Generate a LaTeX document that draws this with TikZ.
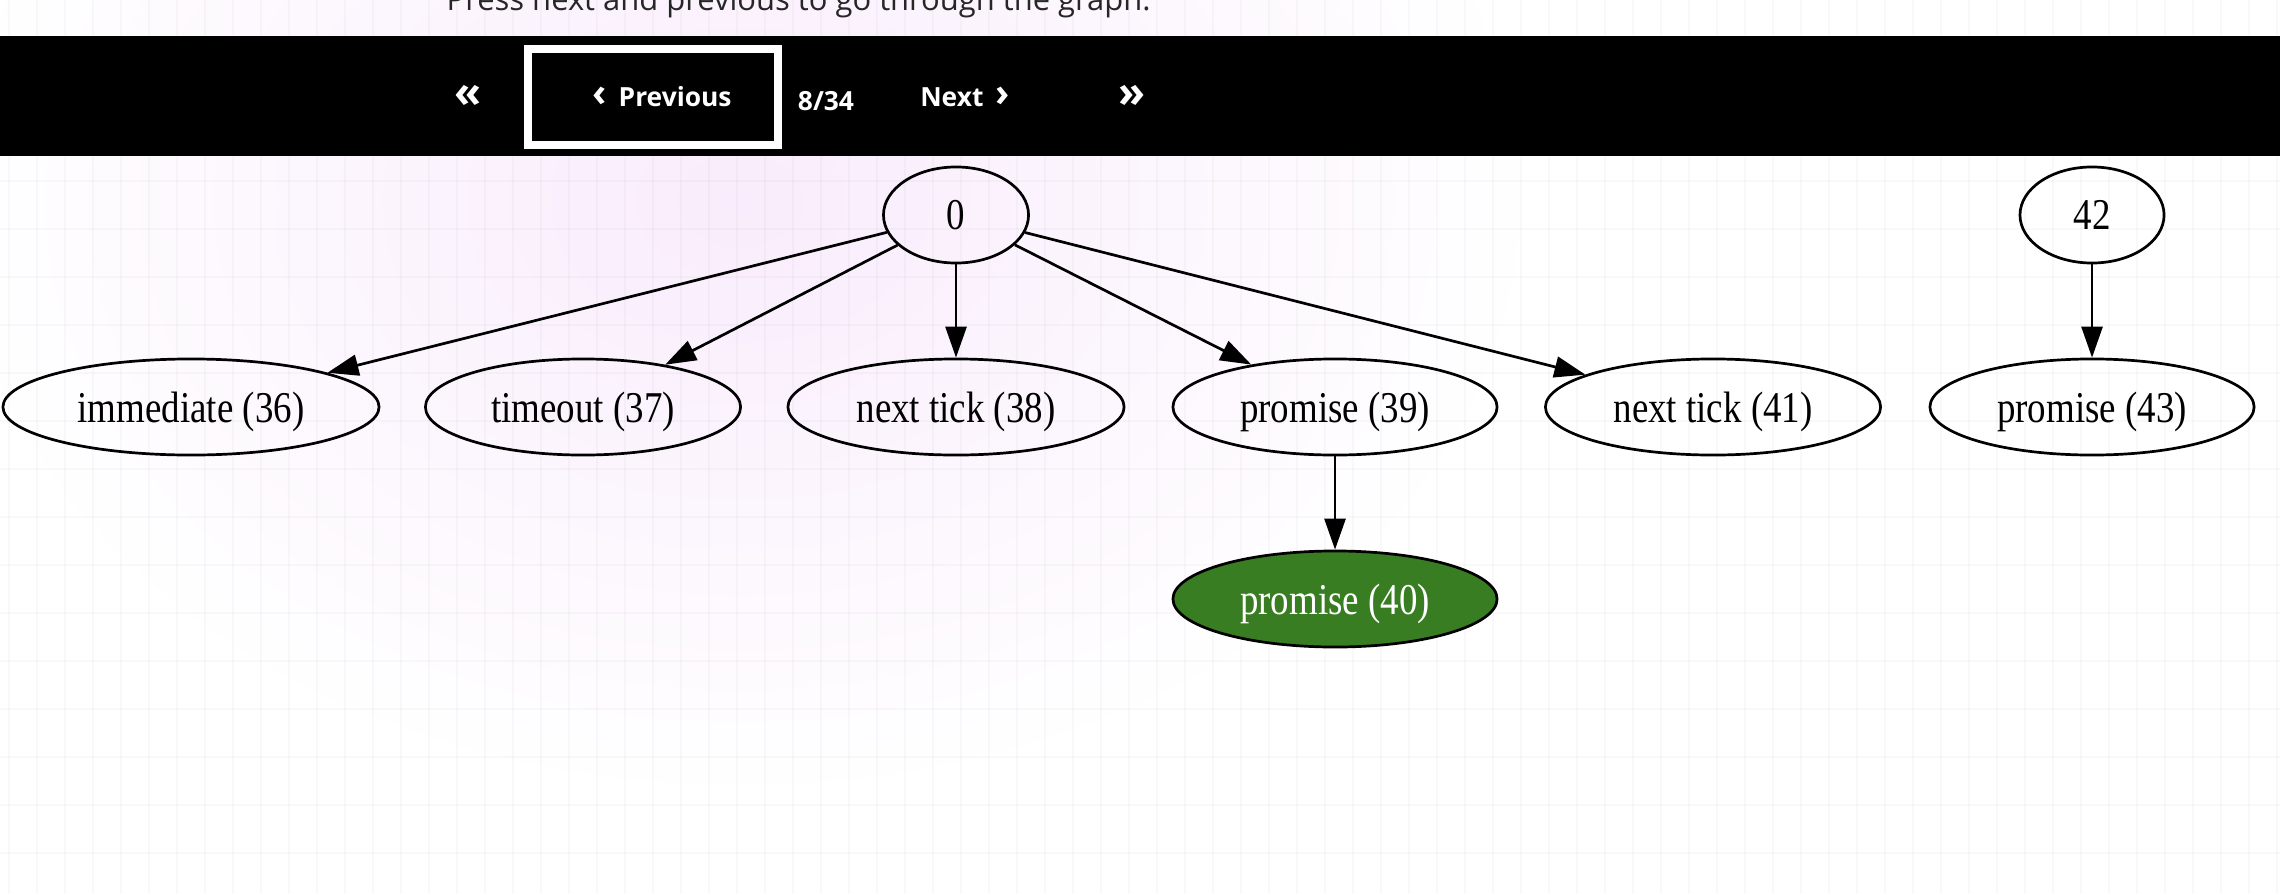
\documentclass[tikz,border=0pt]{standalone}
\usepackage{fontspec}
\setmainfont{Liberation Serif}
\newfontfamily\gvfont[FakeStretch=0.84]{Liberation Serif}
\newfontfamily\navfont{Open Sans}
\usetikzlibrary{shapes.geometric,arrows.meta}
\definecolor{glowpink}{RGB}{249,236,252}
\definecolor{activegreen}{RGB}{56,125,34}
\begin{document}
\begin{tikzpicture}[x=0.01cm,y=-0.01cm,
    gvnode/.style={ellipse,draw,line width=0.027cm,inner sep=0pt,minimum height=0.96cm,text depth=0pt,font=\gvfont\fontsize{12.5}{14}\selectfont},
    gvedge/.style={-{Triangle[length=0.31cm,width=0.21cm]},line width=0.027cm},
    navtext/.style={text=white,font=\navfont\bfseries\fontsize{7.5}{9}\selectfont},
    chevron/.style={font=\navfont\bfseries\fontsize{12.5}{12.5}\selectfont},
    navbtn/.style={draw=white,line width=0.08cm,minimum width=2.5cm,minimum height=0.96cm,inner sep=0pt}]
  \useasboundingbox (0,0) rectangle (2280,894);
  \clip (0,0) rectangle (2280,894);
  \fill[white] (0,0) rectangle (2280,894); % page
  \shade[inner color=glowpink,outer color=white] (740,200) ellipse [x radius=8cm,y radius=6cm]; % glow
  \foreach \gx in {9,37,...,2280} \draw[black,opacity=0.025,line width=0.02cm] (\gx,0) -- (\gx,894); % grid
  \foreach \gy in {37,85,...,894} \draw[black,opacity=0.025,line width=0.02cm] (0,\gy) -- (2280,\gy);
  \node[anchor=base west,inner sep=0pt,text=black!85,font=\navfont\fontsize{8.8}{10}\selectfont] (hint) at (446,11) {Press next and previous to go through the graph.};

  % navigation bar
  \fill[black] (0,36) rectangle (2280,156);
  \node[navtext,chevron] (first) at (468,96) {«};
  \node[navbtn] (prevbox) at (653,97) {};
  \node[navtext] (prev) at (662,97) {\raisebox{0.2pt}{\fontsize{11}{11}\selectfont‹}\hspace{1.2mm}Previous};
  \node[navtext] (page) at (826,101) {8/34};
  \node[navtext] (next) at (965,97) {Next\hspace{1.2mm}\raisebox{0.2pt}{\fontsize{11}{11}\selectfont›}};
  \node[navtext,chevron] (last) at (1132,96) {»};

  % graph
  \node[gvnode,minimum width=1.45cm] (n0) at (956,215) {0};
  \node[gvnode,minimum width=1.44cm] (n42) at (2092,215) {42};
  \node[gvnode,minimum width=3.76cm] (n36) at (191,407) {immediate (36)};
  \node[gvnode,minimum width=3.15cm] (n37) at (583,407) {timeout (37)};
  \node[gvnode,minimum width=3.36cm] (n38) at (956,407) {next tick (38)};
  \node[gvnode,minimum width=3.24cm] (n39) at (1335,407) {promise (39)};
  \node[gvnode,minimum width=3.35cm] (n41) at (1713,407) {next tick (41)};
  \node[gvnode,minimum width=3.24cm] (n43) at (2092,407) {promise (43)};
  \node[gvnode,minimum width=3.24cm,fill=activegreen,text=white] (n40) at (1335,599) {promise (40)}; % current step
  \foreach \child in {n36,n37,n38,n39,n41} \draw[gvedge] (n0) -- (\child);
  \draw[gvedge] (n39) -- (n40);
  \draw[gvedge] (n42) -- (n43);
\end{tikzpicture}
\end{document}
